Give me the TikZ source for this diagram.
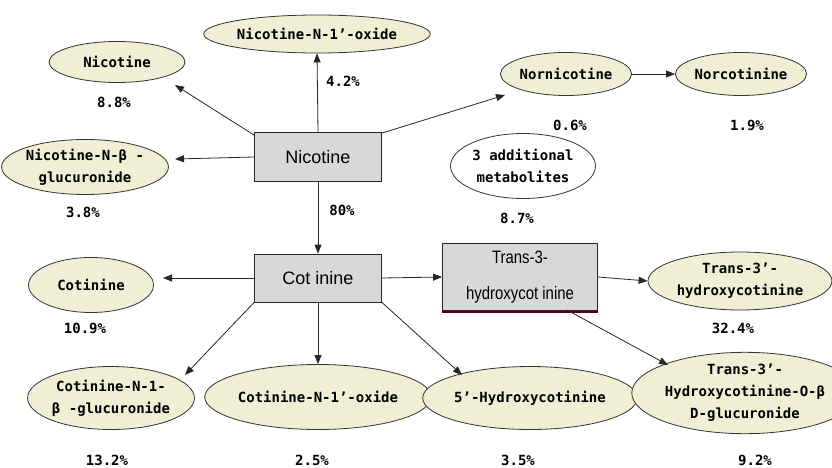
\documentclass[tikz,border=0pt]{standalone}
\usepackage{fontspec}
\usepackage{graphicx}
\usetikzlibrary{shapes.geometric,arrows.meta}
\newfontfamily\monofnt{DejaVu Sans Mono}
\newfontfamily\boxfnt{Liberation Sans}
\definecolor{ellfill}{RGB}{239,239,214}
\definecolor{boxfill}{RGB}{216,216,216}
\definecolor{darkred}{RGB}{90,0,20}
\tikzset{
  ell/.style={ellipse, draw=black!80, line width=0.8pt, fill=ellfill, inner sep=0pt, align=center,
    font=\monofnt\bfseries\fontsize{14}{22}\selectfont},
  wellp/.style={ell, fill=white},
  boxn/.style={rectangle, draw=black!85, line width=0.8pt, fill=boxfill, inner sep=0pt, align=center,
    font=\boxfnt\fontsize{18}{36}\selectfont},
  pct/.style={font=\monofnt\bfseries\fontsize{14}{16}\selectfont, inner sep=0pt},
  arr/.style={-{Triangle[length=9pt,width=7pt]}, line width=0.8pt, black!85},
}
\begin{document}
\begin{tikzpicture}[x=1pt,y=-1pt]
\useasboundingbox (0,0) rectangle (832,468);
% boxes
\node[boxn, minimum width=127pt, minimum height=49pt] (nbox) at (318,157) {Nicotine};
\node[boxn, minimum width=127pt, minimum height=48pt] (cbox) at (318,278) {Cot inine};
\node[boxn, minimum width=155pt, minimum height=67pt] (tbox) at (520,277)
  {\scalebox{0.83}[1]{Trans-3-}\\\scalebox{0.83}[1]{hydroxycot inine}};
\draw[darkred, line width=2pt] ([yshift=-1pt]tbox.south west) -- ([yshift=-1pt]tbox.south east);
% ellipses
\node[ell, minimum width=167pt, minimum height=38pt] (noxide) at (317,34) {Nicotine-N-1’-oxide};
\node[ell, minimum width=136pt, minimum height=41pt] (nic) at (117,62) {Nicotine};
\node[ell, minimum width=156pt, minimum height=55pt] (ngluc) at (85,167) {Nicotine-N-β -\\glucuronide};
\node[ell, minimum width=125pt, minimum height=43pt] (nornic) at (566,74) {Nornicotine};
\node[ell, minimum width=124pt, minimum height=43pt] (norcot) at (741,74) {Norcotinine};
\node[wellp, minimum width=145pt, minimum height=65pt] (addl) at (523,166) {3 additional\\metabolites};
\node[ell, minimum width=125pt, minimum height=55pt] (cot) at (91,285) {Cotinine};
\node[ell, minimum width=145pt, minimum height=63pt] (cgluc) at (111,398) {Cotinine-N-1-\\β -glucuronide};
\node[ell, minimum width=165pt, minimum height=65pt] (coxide) at (318,397) {Cotinine-N-1’-oxide};
\node[ell, minimum width=155pt, minimum height=63pt] (hcot) at (530,398) {5’-Hydroxycotinine};
\node[ell, minimum width=184pt, minimum height=58pt] (thc) at (740,281) {Trans-3’-\\hydroxycotinine};
\node[ell, minimum width=174pt, minimum height=73pt] (thcg) at (745,393) {Trans-3’-\\Hydroxycotinine-O-β\\D-glucuronide};
% percentages
\node[pct] (p1) at (114,102) {8.8\%};
\node[pct] (p2) at (343,81) {4.2\%};
\node[pct] (p3) at (83,212) {3.8\%};
\node[pct] (p4) at (342,210) {80\%};
\node[pct] (p5) at (570,125) {0.6\%};
\node[pct] (p6) at (747,125) {1.9\%};
\node[pct] (p7) at (517,218) {8.7\%};
\node[pct] (p8) at (85,328) {10.9\%};
\node[pct] (p9) at (733,328) {32.4\%};
\node[pct] (p10) at (107,460) {13.2\%};
\node[pct] (p11) at (312,460) {2.5\%};
\node[pct] (p12) at (518,460) {3.5\%};
\node[pct] (p13) at (755,460) {9.2\%};
% arrow tip coordinates
\coordinate (t2) at (175,85);
\coordinate (t3) at (175,159);
\coordinate (t4) at (505,95);
\coordinate (t7) at (163,278);
\coordinate (t8) at (185,375);
\coordinate (t10) at (462,375);
\coordinate (s13) at (567,310);
\coordinate (t13) at (668,365);
% connectors
\draw[arr] (nbox.north) -- (noxide.south);
\draw[arr] ([yshift=-3pt]nbox.north west) -- (t2);
\draw[arr] (nbox.west) -- (t3);
\draw[arr] ([yshift=-1pt]nbox.north east) -- (t4);
\draw[arr] (nbox.south) -- (cbox.north);
\draw[arr] (nornic.east) -- (norcot.west);
\draw[arr] (cbox.west) -- (t7);
\draw[arr] (cbox.south west) -- (t8);
\draw[arr] (cbox.south) -- (coxide.north);
\draw[arr] (cbox.south east) -- (t10);
\draw[arr] (cbox.east) -- (tbox.west);
\draw[arr] (tbox.east) -- (thc.west);
\draw[arr] (s13) -- (t13);
\end{tikzpicture}
\end{document}
